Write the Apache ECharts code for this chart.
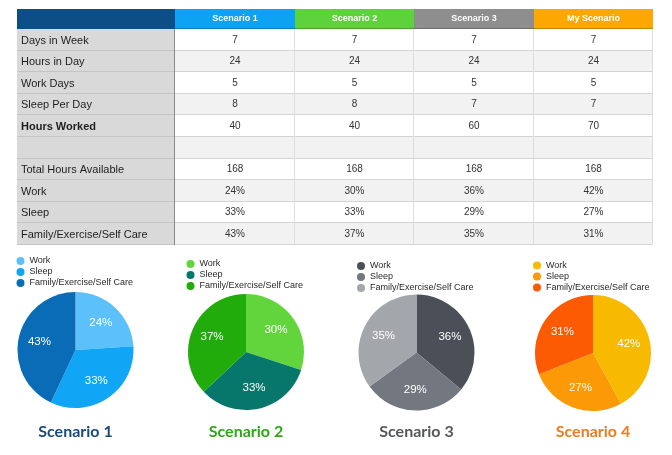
<!DOCTYPE html>
<html><head><meta charset="utf-8">
<script src="https://cdn.jsdelivr.net/npm/echarts@6/dist/echarts.min.js"></script>
<style>html,body{margin:0;padding:0;background:#fff}#c{width:672px;height:455px}</style>
</head><body><div id="c"></div>
<script>
// ---- data ----
const rowLabels = ['Days in Week','Hours in Day','Work Days','Sleep Per Day','Hours Worked','','Total Hours Available','Work','Sleep','Family/Exercise/Self Care'];
const boldRows = ['Hours Worked'];
const scenarioNames = ['Scenario 1','Scenario 2','Scenario 3','My Scenario'];
const scenario1 = ['7','24','5','8','40','','168','24%','33%','43%'];
const scenario2 = ['7','24','5','8','40','','168','30%','33%','37%'];
const scenario3 = ['7','24','5','7','60','','168','36%','29%','35%'];
const myScenario = ['7','24','5','7','70','','168','42%','27%','31%'];
const sliceNames = ['Work','Sleep','Family/Exercise/Self Care'];
const workShare = [24,30,36,42];
const sleepShare = [33,33,29,27];
const familyShare = [43,37,35,31];
const pieTitles = ['Scenario 1','Scenario 2','Scenario 3','Scenario 4'];

// ---- styles ----
const headerColors = ['#0ea2f2','#5dd23a','#8e8e8e','#fca800'];
const pieColors = [['#5cc1fb','#10a5f5','#0a6cb6'],['#62d53d','#08776b','#21ac0c'],['#4b5058','#737880','#a3a6aa'],['#f7ba00','#fb9906','#fd5a04']];
const titleColors = ['#1a4a7c','#2fa816','#555759','#ee7c1f'];
const pieCenters = [[75.5,350],[246,352],[416.5,352.5],[593,353]];
const legendPos = [[16.5,255.5],[186.5,258.5],[357,260.5],[533,260]];

const columns = [scenario1, scenario2, scenario3, myScenario];
const rowKeys = rowLabels.map((l,i)=>'r'+i);

function cellBox(api){
  const c = api.coord([api.value(0), api.value(1)]);
  const s = api.size([1,1]);
  const x0 = Math.round(c[0]-s[0]/2), y0 = Math.round(c[1]-s[1]/2);
  const x1 = Math.round(c[0]+s[0]/2), y1 = Math.round(c[1]+s[1]/2);
  return {x:x0, y:y0, w:x1-x0, h:y1-y0};
}

const labelCells = rowLabels.map((l,i)=>({value:[0,i], label:l}));
const bodyCells = [];
columns.forEach((col,ci)=>col.forEach((v,ri)=>bodyCells.push({value:[ci,ri], label:v})));
const headCells = scenarioNames.map((n,i)=>({value:[i,0], label:n}));

const series = [];
// header left (navy)
series.push({type:'custom', xAxisIndex:0, yAxisIndex:0, silent:true, data:[{value:[0,0]}],
  renderItem:(p,api)=>{const b=cellBox(api);return {type:'rect',shape:{x:b.x,y:b.y,width:b.w,height:b.h},style:{fill:'#0c4e85'}};}});
// header scenarios
series.push({type:'custom', xAxisIndex:1, yAxisIndex:1, silent:true, data:headCells,
  renderItem:(p,api)=>{const b=cellBox(api);const d=headCells[p.dataIndex];
    return {type:'group',children:[
      {type:'rect',z2:0,shape:{x:b.x,y:b.y,width:b.w,height:b.h},style:{fill:headerColors[p.dataIndex]}},
      {type:'rect',z2:10,shape:{x:b.x,y:b.y+b.h-1,width:b.w,height:1},style:{fill:'rgba(0,0,0,0.22)'}},
      {type:'text',z2:20,style:{x:b.x+b.w/2,y:b.y+b.h/2,text:d.label,align:'center',verticalAlign:'middle',fill:'#fff',font:'bold 9px "Liberation Sans", Arial, sans-serif'}}
    ]};}});
// row labels
series.push({type:'custom', xAxisIndex:2, yAxisIndex:2, silent:true, data:labelCells,
  renderItem:(p,api)=>{const b=cellBox(api);const d=labelCells[p.dataIndex];
    const bold = boldRows.indexOf(d.label)>=0;
    return {type:'group',children:[
      {type:'rect',z2:0,shape:{x:b.x,y:b.y,width:b.w,height:b.h},style:{fill:'#d9d9d9'}},
      {type:'rect',z2:10,shape:{x:b.x,y:b.y+b.h-1,width:b.w,height:1},style:{fill:'#c4c4c4'}},
      {type:'rect',z2:11,shape:{x:b.x+b.w-1,y:b.y,width:1,height:b.h},style:{fill:'#8a8a8a'}},
      {type:'text',z2:20,style:{x:b.x+4,y:b.y+b.h/2+0.5,text:d.label,align:'left',verticalAlign:'middle',fill:'#1e1e1e',font:(bold?'bold ':'')+'11px "Liberation Sans", Arial, sans-serif'}}
    ]};}});
// body cells
series.push({type:'custom', xAxisIndex:3, yAxisIndex:3, silent:true, data:bodyCells,
  renderItem:(p,api)=>{const b=cellBox(api);const d=bodyCells[p.dataIndex];
    const ri = d.value[1];
    return {type:'group',children:[
      {type:'rect',z2:0,shape:{x:b.x,y:b.y,width:b.w,height:b.h},style:{fill: ri%2===0?'#ffffff':'#f2f2f2'}},
      {type:'rect',z2:10,shape:{x:b.x,y:b.y+b.h-1,width:b.w,height:1},style:{fill:'#d4d4d4'}},
      {type:'rect',z2:11,shape:{x:b.x+b.w-1,y:b.y,width:1,height:b.h},style:{fill:'#dedede'}},
      {type:'text',z2:20,style:{x:b.x+b.w/2,y:b.y+b.h/2,text:d.label,align:'center',verticalAlign:'middle',fill:'#333',font:'10px "Liberation Sans", Arial, sans-serif'}}
    ]};}});

const legends = [];
const titles = [];
for (let k=0;k<4;k++){
  const names = sliceNames.map(n=>'p'+k+'|'+n);
  const vals = [workShare[k], sleepShare[k], familyShare[k]];
  const data = names.map((n,j)=>({name:n, value:vals[j], itemStyle:{color:pieColors[k][j]}}));
  series.push({type:'pie', center:pieCenters[k], radius:58, startAngle:90, clockwise:true, silent:true,
    label:{show:false}, labelLine:{show:false}, itemStyle:{borderWidth:0}, data:data});
  // transparent ring carrying the percentage labels
  series.push({type:'pie', center:pieCenters[k], radius:[10,58], startAngle:90, clockwise:true, silent:true,
    label:{show:true, position:'inside', formatter:'{c}%', color:'#fff', fontSize:11.5, fontFamily:'"Liberation Sans", Arial, sans-serif'},
    labelLine:{show:false}, itemStyle:{color:'rgba(0,0,0,0)', borderWidth:0},
    data: names.map((n,j)=>({name:n, value:vals[j], itemStyle:{color:'rgba(0,0,0,0)'}}))});
  legends.push({orient:'vertical', left:legendPos[k][0], top:legendPos[k][1], padding:0, itemGap:0,
    icon:'circle', itemWidth:8, itemHeight:8, selectedMode:false,
    data: names.map((n,j)=>({name:n, itemStyle:{color:pieColors[k][j]}})),
    formatter: n=>n.split('|')[1],
    textStyle:{fontSize:9, lineHeight:11, color:'#2a2a2a', fontFamily:'"Liberation Sans", Arial, sans-serif', padding:[0,0,0,0]}});
  titles.push({text:pieTitles[k], left:pieCenters[k][0], top:424, textAlign:'center', padding:0,
    textStyle:{color:titleColors[k], fontSize:16, fontWeight:'bold', fontFamily:'Lato, "Open Sans", sans-serif'}});
}

const option = {
  animation:false,
  backgroundColor:'#ffffff',
  title: titles,
  legend: legends,
  grid:[
    {left:17, top:9, width:158, height:20},
    {left:175, top:9, width:478, height:20},
    {left:17, top:29, width:158, height:216},
    {left:175, top:29, width:478, height:216}
  ],
  xAxis:[
    {type:'category', gridIndex:0, data:['hdr'], show:false},
    {type:'category', gridIndex:1, data:scenarioNames, show:false},
    {type:'category', gridIndex:2, data:['label'], show:false},
    {type:'category', gridIndex:3, data:scenarioNames, show:false}
  ],
  yAxis:[
    {type:'category', gridIndex:0, data:['hdr'], show:false, inverse:true},
    {type:'category', gridIndex:1, data:['hdr'], show:false, inverse:true},
    {type:'category', gridIndex:2, data:rowKeys, show:false, inverse:true},
    {type:'category', gridIndex:3, data:rowKeys, show:false, inverse:true}
  ],
  series: series
};
const chart = echarts.init(document.getElementById('c'), null, {renderer:'canvas'});
chart.setOption(option);
</script></body></html>
